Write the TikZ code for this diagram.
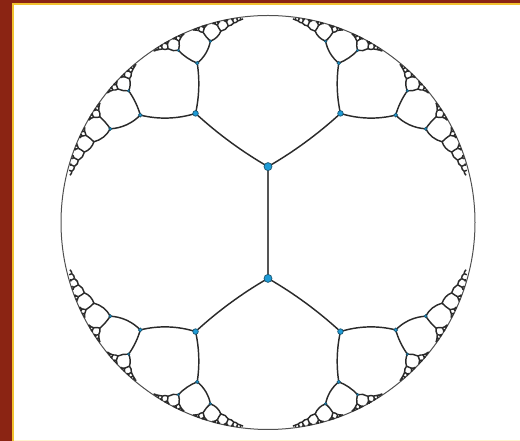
\documentclass[tikz,border=0pt]{standalone}
\definecolor{framec}{HTML}{8B2413}
\definecolor{goldc}{HTML}{F2C230}
\definecolor{palec}{HTML}{FFF3CF}
\definecolor{edgec}{HTML}{2A2A2A}
\definecolor{rimc}{HTML}{505050}
\definecolor{dotfill}{HTML}{1E9BD6}
\definecolor{dotline}{HTML}{1A5672}
\tikzset{
  edgest/.style={draw=edgec, line width=1.45pt},
  midst/.style={draw=edgec!80, line width=1.6pt},
  dotst/.style={fill=dotfill, draw=dotline, line width=0.7pt},
  rimst/.style={draw=rimc, line width=1pt}
}
\def\hC{1.157265}
\def\hS{0.582465}
\newif\ifdotpass
\newcommand\hypchild[6]{%
\begingroup
\pgfmathsetmacro\hpr{\hC*0.866025}%
\pgfmathsetmacro\hpi{(#6)*\hC*0.5}%
\pgfmathsetmacro\hqr{\hS*0.866025}%
\pgfmathsetmacro\hqi{(#6)*\hS*0.5}%
\pgfmathsetmacro\har{(#1)*\hpr-(#2)*\hpi+(#3)*\hqr+(#4)*\hqi}%
\pgfmathsetmacro\hai{(#1)*\hpi+(#2)*\hpr+(#4)*\hqr-(#3)*\hqi}%
\pgfmathsetmacro\hbr{(#1)*\hqr-(#2)*\hqi+(#3)*\hpr+(#4)*\hpi}%
\pgfmathsetmacro\hbi{(#1)*\hqi+(#2)*\hqr+(#4)*\hpr-(#3)*\hpi}%
\pgfmathsetmacro\hna{\har*\har+\hai*\hai}%
\pgfmathsetmacro\hQx{268+207*((\hbr*\har-\hbi*\hai)/\hna)}%
\pgfmathsetmacro\hQy{218.5+207*((\hbr*\hai+\hbi*\har)/\hna)}%
\ifdotpass
  \pgfmathsetmacro\hrad{0.75+3.4/\hna}%
  \path[dotst] (\hQx,\hQy) circle[radius=\hrad];
\else
  \pgfmathsetmacro\hpa{(#1)*(#1)+(#2)*(#2)}%
  \pgfmathsetmacro\hPx{268+207*(((#3)*(#1)-(#4)*(#2))/\hpa)}%
  \pgfmathsetmacro\hPy{218.5+207*(((#3)*(#2)+(#4)*(#1))/\hpa)}%
  \pgfmathsetmacro\haP{(#6)*60+2*atan2(#2,#1)}%
  \pgfmathsetmacro\haQ{2*atan2(\hai,\har)}%
  \pgfmathsetmacro\hL{veclen(\hQx-\hPx,\hQy-\hPy)}%
  \pgfmathsetmacro\hcc{sqrt(abs((1+cos(\haQ-\haP))/2))}%
  \pgfmathsetmacro\hh{2*\hL/(3*(1+\hcc))}%
  \pgfmathsetmacro\hAx{\hPx+\hh*cos(\haP)}%
  \pgfmathsetmacro\hAy{\hPy+\hh*sin(\haP)}%
  \pgfmathsetmacro\hBx{\hQx-\hh*cos(\haQ)}%
  \pgfmathsetmacro\hBy{\hQy-\hh*sin(\haQ)}%
  \draw[edgest] (\hPx,\hPy) .. controls (\hAx,\hAy) and (\hBx,\hBy) .. (\hQx,\hQy);
\fi
\ifnum#5>0
  \edef\hnext{\noexpand\hypchild{\har}{\hai}{\hbr}{\hbi}{\the\numexpr#5-1\relax}{1}%
    \noexpand\hypchild{\har}{\hai}{\hbr}{\hbi}{\the\numexpr#5-1\relax}{-1}}%
  \hnext
\fi
\endgroup}
\begin{document}
\begin{tikzpicture}[x=1pt,y=1pt]
\useasboundingbox (0,0) rectangle (520,441);
\fill[white] (0,0) rectangle (520,441);
% frame
\fill[framec] (0,0) rectangle (12,441);
\fill[framec] (0,438) rectangle (520,441);
\fill[goldc] (12,0) rectangle (13.6,438);
\fill[goldc] (12,436.4) rectangle (520,438);
\fill[palec] (13.6,0) rectangle (520,1.3);
% boundary circle
\draw[rimst] (268,218.5) circle[radius=207];
% central edge
\coordinate (top) at (268,274.39);
\coordinate (bot) at (268,162.61);
\draw[midst] (top) -- (bot);
\dotpassfalse
\hypchild{0.73437}{0.73437}{0.19828}{0.19828}{8}{1}
\hypchild{0.73437}{0.73437}{0.19828}{0.19828}{8}{-1}
\hypchild{0.73437}{-0.73437}{0.19828}{-0.19828}{8}{1}
\hypchild{0.73437}{-0.73437}{0.19828}{-0.19828}{8}{-1}
\dotpasstrue
\hypchild{0.73437}{0.73437}{0.19828}{0.19828}{2}{1}
\hypchild{0.73437}{0.73437}{0.19828}{0.19828}{2}{-1}
\hypchild{0.73437}{-0.73437}{0.19828}{-0.19828}{2}{1}
\hypchild{0.73437}{-0.73437}{0.19828}{-0.19828}{2}{-1}
\path[dotst] (top) circle[radius=4];
\path[dotst] (bot) circle[radius=4];
\end{tikzpicture}
\end{document}
